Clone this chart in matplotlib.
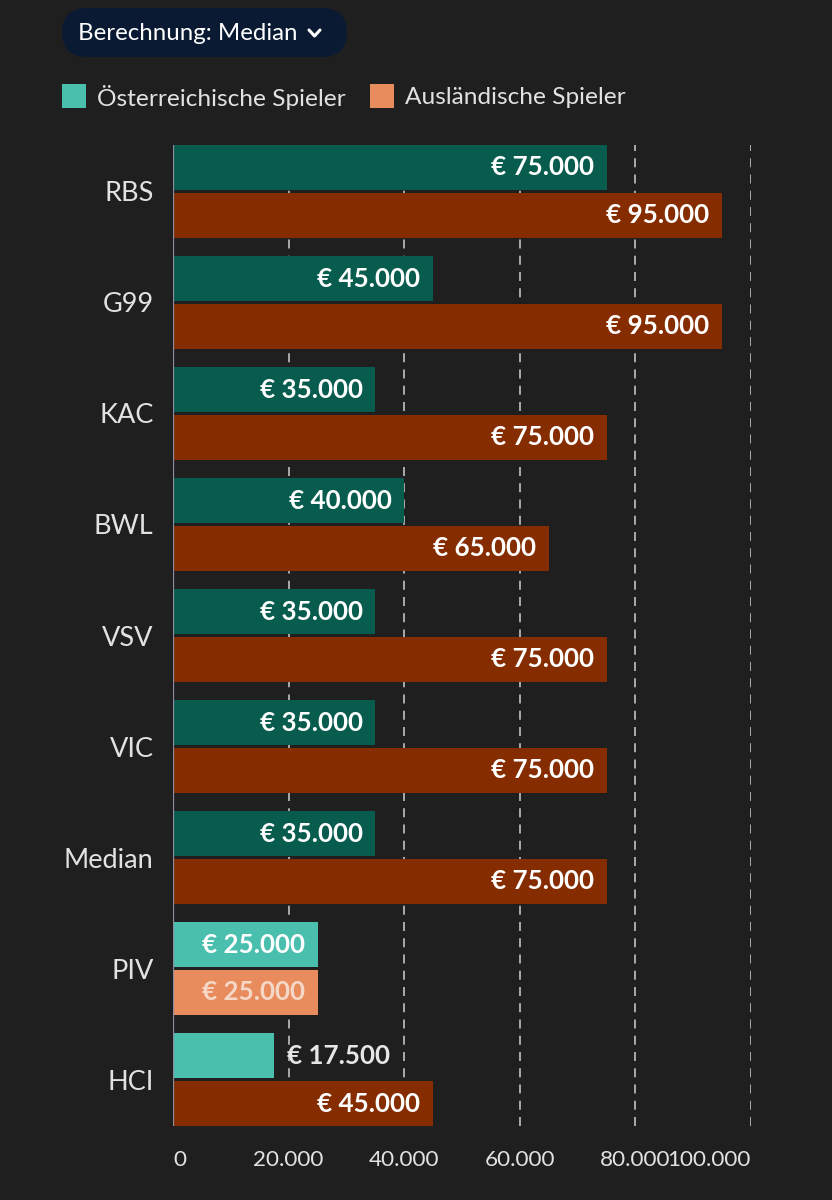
import matplotlib
matplotlib.use("Agg")
import matplotlib.pyplot as plt
from matplotlib.patches import FancyBboxPatch, Rectangle
from matplotlib.lines import Line2D
import numpy as np

# data
teams = ["RBS", "G99", "KAC", "BWL", "VSV", "VIC", "Median", "PIV", "HCI"]
austrian = [75000, 45000, 35000, 40000, 35000, 35000, 35000, 25000, 17500]
foreign = [95000, 95000, 75000, 65000, 75000, 75000, 75000, 25000, 45000]
austrian_light = [False, False, False, False, False, False, False, True, True]
foreign_light = [False, False, False, False, False, False, False, True, False]
ticks = [0, 20000, 40000, 60000, 80000, 100000]

BG = "#1f1f1f"
TEAL_DARK = "#075c4e"
TEAL_LIGHT = "#4bbfae"
BROWN_DARK = "#852d00"
ORANGE_LIGHT = "#e88c5e"

plt.rcParams["font.family"] = ["Lato", "DejaVu Sans"]


def fmt(v):
    return f"{v:,.0f}".replace(",", ".")


fig = plt.figure(figsize=(8.32, 12), dpi=100, facecolor=BG)
W, H = 832, 1200
ax = fig.add_axes([173 / W, 1 - 1126 / H, (751 - 173) / W, (1126 - 145) / H])
ax.set_facecolor(BG)

y = np.arange(len(teams))
bh = 0.405
off = 0.215

for xv in ticks[1:]:
    ax.axvline(xv, color="#b5b5b5", lw=1.3, ls=(0, (5, 4)), zorder=1)
ax.axvline(0, color="#8d8ca3", lw=1.6, zorder=3)

ca = [TEAL_LIGHT if l else TEAL_DARK for l in austrian_light]
cf = [ORANGE_LIGHT if l else BROWN_DARK for l in foreign_light]
ax.barh(y - off, austrian, height=bh, color=ca, zorder=2)
ax.barh(y + off, foreign, height=bh, color=cf, zorder=2)

pad = 2200
for i in range(len(teams)):
    for val, yy, light, ser in [(austrian[i], y[i] - off, austrian_light[i], "a"),
                                (foreign[i], y[i] + off, foreign_light[i], "f")]:
        txt = "€ " + fmt(val)
        if val < 20000:
            ax.text(val + pad, yy, txt, ha="left", va="center", fontsize=18.7,
                    color="#e6e6e6", fontweight="bold", zorder=4)
        else:
            col = "#f6d8c8" if (light and ser == "f") else "white"
            ax.text(val - pad, yy, txt, ha="right", va="center", fontsize=18.7,
                    color=col, fontweight="bold", zorder=4)

ax.set_xlim(0, 100000)
ax.set_ylim(len(teams) - 1 + 0.4175, -0.4175)
ax.set_yticks(y)
ax.set_yticklabels(teams, fontsize=19.5, color="#e2e2e2")
ax.set_xticks(ticks)
ax.set_xticklabels([fmt(t) for t in ticks], fontsize=16.2, color="#e2e2e2")
labels = ax.get_xticklabels()
labels[0].set_ha("left")
labels[-1].set_ha("right")
ax.tick_params(axis="y", length=0, pad=14)
ax.tick_params(axis="x", length=0, pad=17)
for s in ax.spines.values():
    s.set_visible(False)

# dropdown button
btn = FancyBboxPatch((62 / W, 1 - 57 / H), (347 - 62) / W, 49 / H,
                     boxstyle="round,pad=0,rounding_size=0.03",
                     transform=fig.transFigure, facecolor="#0b1a33",
                     edgecolor="none", mutation_aspect=W / H)
fig.patches.append(btn)
fig.text(78 / W, 1 - 33 / H, "Berechnung: Median", fontsize=17.3, color="white",
         va="center", ha="left")
fig.lines.append(Line2D([309 / W, 314.5 / W, 320 / W],
                        [1 - 30 / H, 1 - 36 / H, 1 - 30 / H],
                        transform=fig.transFigure, color="white", lw=2.2,
                        solid_capstyle="round", solid_joinstyle="round"))

# legend
for x0, col, lab in [(62, TEAL_LIGHT, "Österreichische Spieler"),
                     (370, ORANGE_LIGHT, "Ausländische Spieler")]:
    fig.patches.append(Rectangle((x0 / W, 1 - 108 / H), 24 / W, 24 / H,
                                 transform=fig.transFigure, facecolor=col,
                                 edgecolor="none"))
    fig.text((x0 + 35) / W, 1 - 97 / H, lab, fontsize=17.6, color="#e2e2e2",
             va="center", ha="left")

fig.savefig("out.png", dpi=100, facecolor=BG)
